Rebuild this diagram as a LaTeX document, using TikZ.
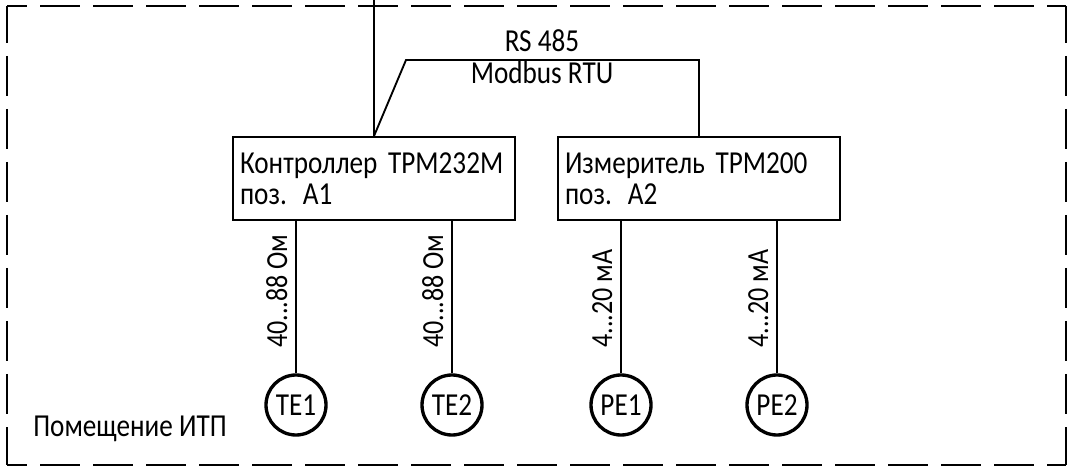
\documentclass[tikz,border=0pt]{standalone}
\usepackage{fontspec}
\setmainfont[FakeStretch=0.85]{Carlito}
\usetikzlibrary{positioning}
\tikzset{every node/.style={font=\fontsize{24}{23.25}\selectfont},
  schemebox/.style={draw,line width=1.4pt,minimum width=211.5pt,minimum height=62.25pt,
    inner xsep=5pt,inner ysep=0pt,text width=201pt,align=left},
  sensor/.style={circle,draw,line width=2.5pt,minimum size=45pt,inner sep=0pt},
  sensorlabel/.style={rotate=90,anchor=base west,inner sep=0pt,font=\fontsize{23}{23.25}\selectfont},
  wire/.style={line width=1.4pt},
  roomline/.style={line width=1.4pt,dash pattern=on 30pt off 9.75pt}}
\newcommand{\ohmrange}{40...88 Ом}
\newcommand{\marange}{4...20 мА}

\begin{document}
\begin{tikzpicture}[x=0.75pt,y=-0.75pt]
    \useasboundingbox (0,0) rectangle (1067,466);
    % room border
    \coordinate (tl) at (7,6);
    \coordinate (tr) at (1066,6);
    \coordinate (bl) at (7,465);
    \coordinate (br) at (1066,465);
    \draw[roomline,dash phase=15pt] (tl) -- (tr);
    \draw[roomline,dash phase=15pt] (bl) -- (br);
    \draw[roomline,dash phase=2.25pt] (tl) -- (bl);
    \draw[roomline,dash phase=2.25pt] (tr) -- (br);
    % devices
    \node[schemebox] (a1) at (374,178.5) {Контроллер ТРМ232М\\поз. А1};
    \node[schemebox] (a2) at (699,178.5) {Измеритель ТРМ200\\поз. А2};
    % bus
    \coordinate (entry) at (374,0);
    \coordinate (busl) at (406,60);
    \coordinate (busr) at (699,60);
    \draw[wire] (entry) -- (entry |- a1.north);
    \draw[wire] (entry |- a1.north) -- (busl) -- (busr) -- (busr |- a2.north);
    \node[anchor=base,inner sep=0pt] (bustop) at (542,52) {RS 485};
    \node[anchor=base,inner sep=0pt] (busbot) at (542,84) {Modbus RTU};
    % sensors
    \foreach\x/\name/\dev/\txt in {296/TE1/a1/\ohmrange, 452/TE2/a1/\ohmrange, 621/PE1/a2/\marange, 777/PE2/a2/\marange}
    {
      \node[sensor] (\name) at (\x,405) {\name};
      \draw[wire] (\name.north) -- (\name.north |- \dev.south);
      \node[sensorlabel] (lbl\name) at (\x-9,348) {\txt};
    }
    \node[anchor=base west,inner sep=0pt] (room) at (33,436) {Помещение ИТП};
\end{tikzpicture}
\end{document}
